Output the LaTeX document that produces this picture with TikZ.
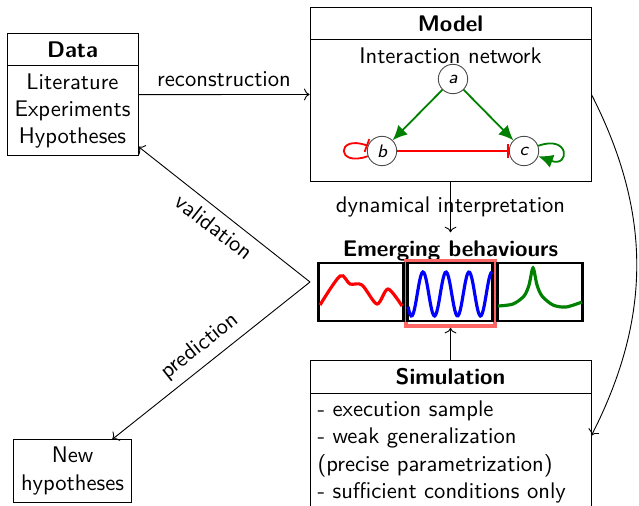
\documentclass[tikz,border=0pt]{standalone}
\usetikzlibrary{shapes.multipart,arrows.meta}

\begin{document}
\begin{tikzpicture}[x=0.4425pt, y=-0.4425pt, font=\sffamily,
	block/.style={draw, rectangle split, rectangle split parts=2, align=center},
	panel/.style={draw, line width=1pt, minimum width=37.6pt, minimum height=25.7pt},
	gene/.style={circle, draw=black!70, minimum size=13pt, inner sep=0pt, font=\sffamily\footnotesize\itshape},
	act/.style={green!50!black, thick, -{Latex[length=6.5pt,width=6pt]}},
	inh/.style={red, thick, -{Bar[width=6pt]}},
	flow/.style={->},
	curve/.style={line width=1.4pt}]

\useasboundingbox (0,0) rectangle (639,505);
\clip (0,0) rectangle (639,505);

% Create the boxes
\node[block, anchor=north] (data) at (72.5,33) {\textbf{Data}\nodepart{second}Literature\\Experiments\\Hypotheses};
\node[block, anchor=north, minimum width=124.3pt] (model) at (450.5,7) {\textbf{Model}\nodepart{second}Interaction network\rule[-48.8pt]{0pt}{48.8pt}};
\node[block, anchor=north, minimum width=124.3pt, align=left, rectangle split part align={center,left}] (sim) at (450.5,360) {\textbf{Simulation}\nodepart{second}- execution sample\\- weak generalization\\(precise parametrization)\\- sufficient conditions only};
\node[draw, align=center] (newhyp) at (72.5,471) {New\\hypotheses};

% Interaction network
\node[gene] (a) at (453,79) {a};
\node[gene] (b) at (382,151) {b};
\node[gene] (c) at (524,151) {c};
\draw[act] (a) -- (b);
\draw[act] (a) -- (c);
\draw[inh] (b) -- (c);
\draw[inh] (b) to[out=200,in=160,min distance=15pt] (b);
\draw[act] (c) to[out=20,in=-20,min distance=15pt] (c);

% Emerging behaviours
\node[font=\sffamily\bfseries] (emerg) at (450.5,250.5) {Emerging behaviours};
\node[draw=red!60, line width=1.55pt, minimum width=39.2pt, minimum height=28.8pt] (focus) at (450.5,293.5) {};
\node[panel] (p1) at (361,292) {};
\node[panel] (p2) at (450,292) {};
\node[panel] (p3) at (540,292) {};
\draw[curve, red] plot[smooth] coordinates {(320,305) (340,276) (350,284) (362,285) (377,304) (388,289) (402,306)};
\draw[curve, blue] plot[domain=408:492, samples=80] (\x, {294-22*cos(15.65*(\x-423))});
\draw[curve, green!50!black] plot[smooth] coordinates {(498,306) (513,304) (524,296) (529,285) (533,268) (537,285) (542,296) (553,305) (566,307) (582,302)};

% Connections
\draw[flow] (data) -- node[above] {reconstruction} (model);
\draw[flow] (model) -- node {dynamical interpretation} (emerg);
\draw[flow] (sim) -- (focus);
\draw[flow] (model.east) to[bend left=27] (sim.east);
\coordinate (fork) at (310,282);
\draw[flow] (fork) -- node[below, sloped] {validation} (data);
\draw[flow] (fork) -- node[above, sloped] {prediction} (newhyp);

\end{tikzpicture}
\end{document}
